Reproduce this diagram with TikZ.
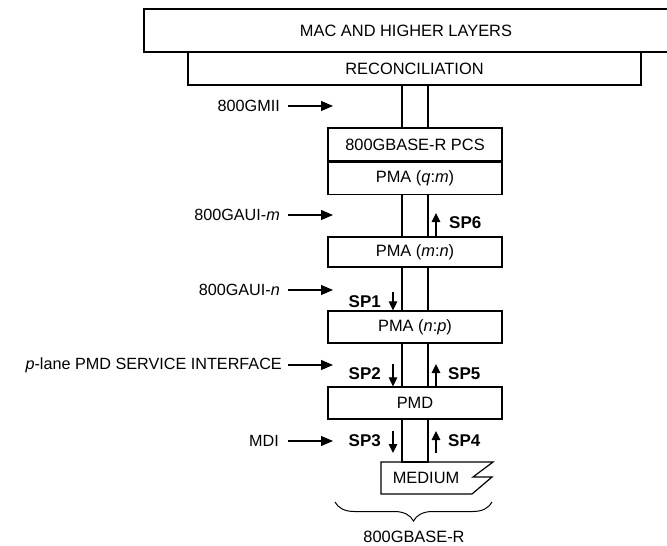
\documentclass[tikz,border=0pt]{standalone}
\usepackage{fontspec}
\setmainfont{Liberation Sans}
\usetikzlibrary{arrows.meta,positioning,decorations.pathreplacing}

\begin{document}
\begin{tikzpicture}[
  x=1pt, y=-1pt,
  layer/.style={draw, line width=1.2pt, inner sep=0pt, minimum width=174pt,
    minimum height=32pt, font=\fontsize{16.4}{18}\selectfont},
  lbl/.style={inner sep=0pt, anchor=east, font=\fontsize{16.2}{18}\selectfont},
  sp/.style={inner sep=0pt, font=\fontsize{17}{18}\selectfont\bfseries},
  iface/.style={-{Triangle[length=12pt,width=10pt]}, line width=1.1pt},
  sparrow/.style={-{Triangle[length=9pt,width=8.5pt]}, line width=1.1pt},
  link/.style={line width=1.2pt}
]
\useasboundingbox (0,0) rectangle (667,546);

\node[layer, minimum width=524pt, minimum height=43pt] (mac) at (406,30.5) {MAC AND HIGHER LAYERS};
\node[layer, minimum width=453pt, minimum height=33pt] (rec) at (414.5,68.5) {RECONCILIATION};
\node[layer, minimum height=33pt] (pcs) at (415,144.5) {800GBASE-R PCS};
\node[layer, below=0pt of pcs] (pmaqm) {PMA (\textit{q}:\textit{m})};
\node[layer, minimum height=30pt] (pmamn) at (415,252) {PMA (\textit{m}:\textit{n})};
\node[layer] (pmanp) at (415,327) {PMA (\textit{n}:\textit{p})};
\node[layer] (pmd) at (415,403) {PMD};

% medium with broken right edge
\draw[link] (381,462) -- (493,462) -- (473,477) -- (492,477) -- (472,494) -- (381,494) -- cycle;
\node[font=\fontsize{16.4}{18}\selectfont] (medium) at (426,478) {MEDIUM};

\coordinate (lx) at (402,0);
\coordinate (rx) at (428,0);
\coordinate (mtop) at (0,462);
\foreach \a/\b in {rec/pcs, pmaqm/pmamn, pmamn/pmanp, pmanp/pmd} {
  \draw[link] (\a.south -| lx) -- (\b.north -| lx);
  \draw[link] (\a.south -| rx) -- (\b.north -| rx);
}
\draw[link] (pmd.south -| lx) -- (lx |- mtop) -- (rx |- mtop) -- (pmd.south -| rx);

% interfaces
\node[lbl] (gmii) at (280,106) {800GMII};
\node[lbl] (gauim) at (280,215) {800GAUI-\textit{m}};
\node[lbl] (gauin) at (280,290) {800GAUI-\textit{n}};
\node[lbl] (pmdsi) at (282,365) {\textit{p}-lane PMD SERVICE INTERFACE};
\node[lbl] (mdi) at (279,441) {MDI};
\coordinate (ax) at (288,0);
\foreach \n in {gmii, gauim, gauin, pmdsi, mdi}
  \draw[iface] (\n.east -| ax) -- ++(45,0);

% service points
\coordinate (sl) at (393,0);
\coordinate (sr) at (436,0);
\node[sp, anchor=east] (sp1) at (381,302) {SP1};
\node[sp, anchor=east] (sp2) at (381,374) {SP2};
\node[sp, anchor=east] (sp3) at (381,441) {SP3};
\node[sp, anchor=west] (sp4) at (448,441) {SP4};
\node[sp, anchor=west] (sp5) at (448,374) {SP5};
\node[sp, anchor=west] (sp6) at (449,223) {SP6};
\draw[sparrow] (sl |- 0,292) -- (pmanp.north -| sl);
\draw[sparrow] (sl |- 0,364) -- (pmd.north -| sl);
\draw[sparrow] (sl |- 0,431) -- (sl |- 0,453);
\draw[sparrow] (sr |- 0,453) -- (sr |- 0,431);
\draw[sparrow] (pmd.north -| sr) -- (sr |- 0,364);
\draw[sparrow] (pmamn.north -| sr) -- (sr |- 0,213);

\draw[decorate, decoration={brace, mirror, amplitude=19pt}, line width=1pt] (335,502) -- (492,502);
\node[font=\fontsize{16.4}{18}\selectfont] (phy) at (414,537) {800GBASE-R};
\end{tikzpicture}
\end{document}
